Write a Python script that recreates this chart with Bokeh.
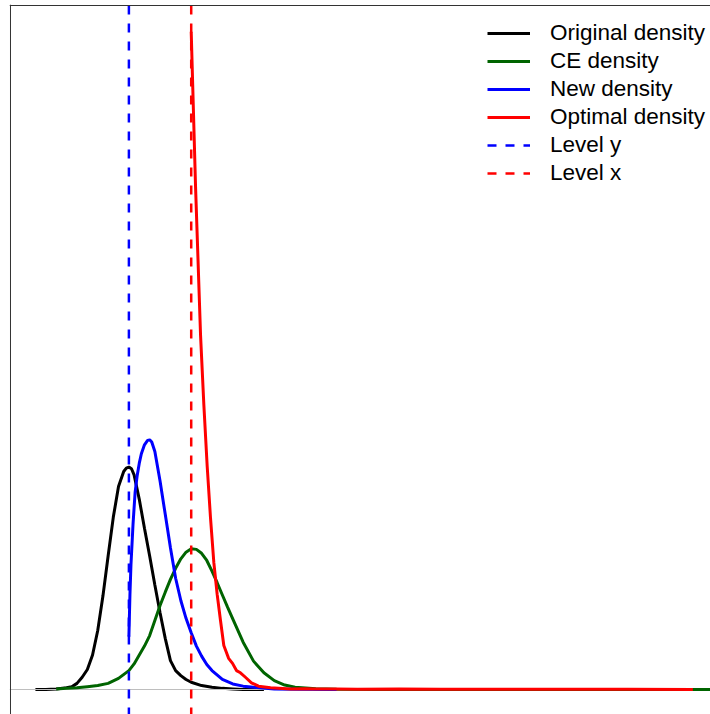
from bokeh.plotting import figure
from bokeh.models import Range1d, Span, Legend, LegendItem
from bokeh.embed import file_html
from bokeh.resources import INLINE

# Original density
x_orig = [-4.5, -4.0, -3.5, -3.0, -2.75, -2.5, -2.25, -2.0, -1.75, -1.5, -1.25, -1.0,
          -0.75, -0.5, -0.25, -0.125, 0.0, 0.125, 0.25, 0.5, 0.75, 1.0, 1.25, 1.5, 1.75, 2.0, 2.25,
          2.5, 2.75, 3.0, 3.5, 4.0, 4.5, 5.0, 5.5, 6.5]
d_orig = [0.000, 0.000, 0.001, 0.003, 0.005, 0.011, 0.022, 0.036, 0.062, 0.106, 0.168, 0.240,
          0.310, 0.365, 0.392, 0.398, 0.400, 0.397, 0.386, 0.342, 0.290, 0.240, 0.188, 0.138, 0.092, 0.052, 0.034,
          0.025, 0.018, 0.013, 0.007, 0.004, 0.002, 0.001, 0.000, 0.000]

# CE density
x_ce = [-3.5, -3.0, -2.5, -2.0, -1.5, -1.0, -0.5, 0.0, 0.25, 0.5, 0.75, 1.0, 1.25, 1.5,
        1.75, 2.0, 2.25, 2.5, 2.75, 3.0, 3.25, 3.5, 3.75, 4.0, 4.25, 4.5, 4.75, 5.0,
        5.5, 6.0, 6.5, 7.0, 7.5, 8.0, 9.0, 10.0, 12.0, 29.0]
d_ce = [0.001, 0.002, 0.003, 0.005, 0.007, 0.011, 0.020, 0.034, 0.046, 0.062, 0.078, 0.097, 0.124, 0.151,
        0.175, 0.198, 0.218, 0.235, 0.247, 0.253, 0.252, 0.245, 0.232, 0.213, 0.192, 0.170, 0.148, 0.127,
        0.085, 0.051, 0.030, 0.016, 0.008, 0.004, 0.0013, 0.0005, 0.0, 0.0]

# New density
x_new = [0.0, 0.05, 0.1, 0.2, 0.3, 0.4, 0.5, 0.6, 0.75, 0.9, 1.0, 1.1, 1.25, 1.5, 1.75,
         2.0, 2.25, 2.5, 2.75, 3.0, 3.25, 3.5, 3.75, 4.0, 4.5, 5.0, 5.5, 6.0, 7.0, 8.0, 10.0]
d_new = [0.095, 0.170, 0.225, 0.298, 0.355, 0.385, 0.407, 0.424, 0.440, 0.448, 0.449, 0.445, 0.428, 0.375, 0.315,
         0.255, 0.200, 0.160, 0.128, 0.102, 0.078, 0.060, 0.045, 0.034, 0.018, 0.010, 0.006, 0.004, 0.001, 0.0005, 0.0]

# Optimal density
x_opt = [3.0, 3.21, 3.45, 3.61, 3.77, 3.93, 4.09, 4.25, 4.41, 4.57, 4.80, 4.99, 5.18, 5.37,
         5.61, 5.90, 6.24, 6.82, 7.78, 8.5, 9.0, 10.0, 11.0, 13.0, 15.0, 18.0, 21.0, 24.0, 27.15]
d_opt = [1.183, 0.903, 0.637, 0.511, 0.401, 0.308, 0.228, 0.171, 0.124, 0.079, 0.056, 0.047, 0.034, 0.030,
         0.022, 0.012, 0.006, 0.003, 0.001, 0.0015, 0.0008, 0.001, 0.0005, 0.0007, 0.0003, 0.0004, 0.0002, 0.0003, 0.0]

level_y = 0.0
level_x = 3.0

labels = ["Original density", "CE density", "New density", "Optimal density", "Level y", "Level x"]

# plot box limits (left and top edges are drawn as the box frame)
box_left, box_top = -5.7, 1.2302
x_lo, x_hi = -5.748, 28.0
y_lo, y_hi = -0.045, 1.232

p = figure(width=710, height=714, output_backend="svg", toolbar_location=None,
           x_range=Range1d(x_lo, x_hi), y_range=Range1d(y_lo, y_hi),
           x_axis_type=None, y_axis_type=None,
           min_border_left=9, min_border_top=4, min_border_right=0, min_border_bottom=0,
           outline_line_color=None, background_fill_color="white", border_fill_color="white")

r_orig = p.line(x_orig, d_orig, line_color="black", line_width=3)
p.hspan(y=[0.0], line_color="#BEBEBE", line_width=1)
r_ce = p.line(x_ce, d_ce, line_color="#006400", line_width=3)
r_new = p.line(x_new, d_new, line_color="#0000FF", line_width=3)
r_opt = p.line(x_opt, d_opt, line_color="#FF0000", line_width=3)
r_ly = p.segment(x0=[level_y], y0=[box_top], x1=[level_y], y1=[y_lo],
                 line_color="#0000FF", line_width=2.5, line_dash="9 9")
r_lx = p.segment(x0=[level_x], y0=[box_top], x1=[level_x], y1=[y_lo],
                 line_color="#FF0000", line_width=2.5, line_dash="9 9")

# box edges (left and top)
p.add_layout(Span(location=box_left, dimension="height", line_color="#333333", line_width=1))
p.add_layout(Span(location=box_top, dimension="width", line_color="#333333", line_width=1))

legend = Legend(
    items=[LegendItem(label=lab, renderers=[r]) for lab, r in
           zip(labels, [r_orig, r_ce, r_new, r_opt, r_ly, r_lx])],
    location=(478, 527), padding=0, margin=0, spacing=0,
    label_height=28, glyph_height=28, glyph_width=43, label_standoff=20,
    label_text_font="Liberation Sans", label_text_font_size="22.5px",
    label_text_color="black", background_fill_alpha=0, border_line_color=None,
)
p.add_layout(legend)

open("out.html", "w").write(file_html(p, INLINE))
